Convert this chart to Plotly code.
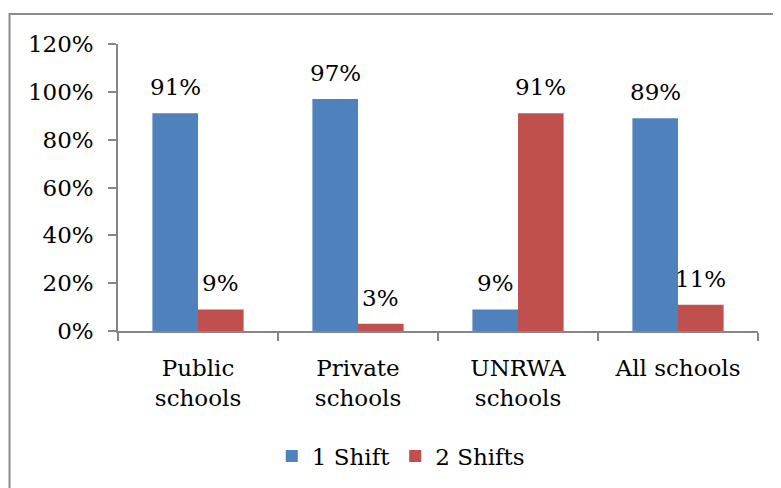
import plotly.graph_objects as go

categories = ["Public<br>schools", "Private<br>schools", "UNRWA<br>schools", "All schools"]
one_shift = [91, 97, 9, 89]
two_shifts = [9, 3, 91, 11]
series_names = ["1 Shift", "2 Shifts"]
colors = ["#4F81BD", "#C0504D"]
y_ticks = [0, 20, 40, 60, 80, 100, 120]
y_tick_labels = ["0%", "20%", "40%", "60%", "80%", "100%", "120%"]

FONT = "DejaVu Serif"
FS = 23
OFF = 8  # page body margin
W, H = 781 - OFF, 488 - OFF
L, T = 118 - OFF, 44 - OFF
R = W - (758 - OFF)
B = H - (332 - OFF)
pw, ph = W - L - R, H - T - B

fig = go.Figure()
for name, vals, col in zip(series_names, [one_shift, two_shifts], colors):
    fig.add_trace(go.Bar(x=categories, y=vals, name=name, marker_color=col,
                         marker_line_width=0))

bar_w = pw / 4 * (1 - 0.43) / 2
for i, vals in enumerate([one_shift, two_shifts]):
    shift = -bar_w / 2 if i == 0 else bar_w / 2
    for c, v in zip(categories, vals):
        fig.add_annotation(x=c, y=v, xref="x", yref="y", text=f"{v}%",
                           showarrow=False, xshift=shift, yanchor="bottom",
                           yshift=11, font=dict(family=FONT, size=FS, color="#000"))

# chart border
fig.add_shape(type="rect", xref="paper", yref="paper",
              x0=(9.5 - OFF - L) / pw, x1=1.2, y0=-0.8, y1=1 + (T - (14 - OFF)) / ph,
              line=dict(color="#8C8C8C", width=2), layer="below")

fig.update_layout(
    width=W, height=H,
    margin=dict(l=L, r=R, t=T, b=B, pad=0),
    paper_bgcolor="white", plot_bgcolor="white",
    barmode="group", bargap=0.43, bargroupgap=0,
    font=dict(family=FONT, size=FS, color="#000"),
    showlegend=True,
    legend=dict(orientation="h", x=(404 - 118) / pw - 0.005, xanchor="center",
                y=-(456 - 332) / ph, yanchor="middle",
                font=dict(family=FONT, size=FS), traceorder="normal"),
    xaxis=dict(showline=True, linecolor="#868686", linewidth=1.5,
               ticks="outside", tickson="boundaries", ticklen=8,
               tickcolor="#868686", tickwidth=1.5, showgrid=False,
               tickfont=dict(family=FONT, size=FS), ticklabelstandoff=16),
    yaxis=dict(range=[0, 120], tickvals=y_ticks, ticktext=y_tick_labels,
               showline=True, linecolor="#868686", linewidth=1.5,
               ticks="outside", ticklen=8, tickcolor="#868686", tickwidth=1.5,
               showgrid=False, zeroline=False,
               tickfont=dict(family=FONT, size=FS), ticklabelstandoff=10),
)

fig.write_html("out.html")
